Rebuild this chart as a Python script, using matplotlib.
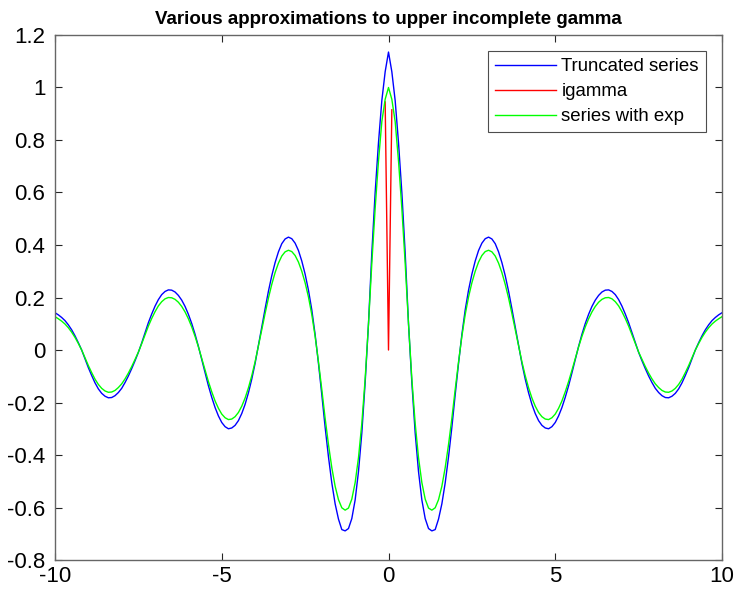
import matplotlib.pyplot as plt
import numpy as np

plt.rcParams['font.family'] = ['Liberation Sans', 'DejaVu Sans']

# sample positions for the x >= 0 half (picture is mirror symmetric about x = 0)
x_half = np.round(np.arange(0, 10.05, 0.1), 1)

# values, x = 0.0, 0.1, ..., 10.0
truncated_half = [
    1.135, 1.06, 0.95, 0.79, 0.60, 0.37, 0.10, -0.124, -0.316, -0.463,
    -0.571, -0.642, -0.680, -0.689, -0.684, -0.644, -0.586, -0.506, -0.407, -0.294,
    -0.170, -0.051, 0.059, 0.153, 0.228, 0.289, 0.339, 0.379, 0.407, 0.424,
    0.430, 0.423, 0.405, 0.374, 0.333, 0.283, 0.224, 0.157, 0.087, 0.017,
    -0.051, -0.111, -0.163, -0.207, -0.242, -0.269, -0.287, -0.297, -0.300, -0.292,
    -0.276, -0.251, -0.219, -0.180, -0.136, -0.087, -0.036, 0.014, 0.060, 0.101,
    0.136, 0.166, 0.190, 0.208, 0.221, 0.228, 0.229, 0.223, 0.211, 0.192,
    0.167, 0.137, 0.104, 0.066, 0.027, -0.009, -0.041, -0.071, -0.099, -0.124,
    -0.146, -0.162, -0.174, -0.181, -0.182, -0.176, -0.165, -0.148, -0.125, -0.097,
    -0.067, -0.034, 0.000, 0.028, 0.054, 0.077, 0.096, 0.112, 0.124, 0.134,
    0.142]

series_exp_half = [
    1.0, 0.955, 0.87, 0.72, 0.54, 0.33, 0.10, -0.11, -0.28, -0.41,
    -0.505, -0.568, -0.602, -0.610, -0.601, -0.570, -0.519, -0.448, -0.360, -0.260,
    -0.150, -0.045, 0.052, 0.135, 0.202, 0.256, 0.300, 0.335, 0.360, 0.375,
    0.380, 0.374, 0.358, 0.331, 0.295, 0.250, 0.198, 0.139, 0.077, 0.015,
    -0.045, -0.098, -0.144, -0.183, -0.214, -0.238, -0.254, -0.263, -0.265, -0.258,
    -0.244, -0.222, -0.194, -0.159, -0.120, -0.077, -0.032, 0.012, 0.052, 0.088,
    0.119, 0.145, 0.166, 0.182, 0.193, 0.199, 0.200, 0.195, 0.184, 0.168,
    0.146, 0.120, 0.091, 0.058, 0.024, -0.008, -0.036, -0.063, -0.088, -0.110,
    -0.129, -0.143, -0.154, -0.160, -0.161, -0.156, -0.146, -0.131, -0.111, -0.086,
    -0.059, -0.030, 0.000, 0.025, 0.048, 0.068, 0.085, 0.099, 0.110, 0.119,
    0.127]

igamma_x = [-0.1, 0.0, 0.1]
igamma_y = [0.945, 0.0, 0.915]

x = np.concatenate([-x_half[:0:-1], x_half])
truncated = np.concatenate([truncated_half[:0:-1], truncated_half])
series_exp = np.concatenate([series_exp_half[:0:-1], series_exp_half])

fig = plt.figure(figsize=(7.4, 5.9), dpi=100)
ax = fig.add_axes([0.0743, 0.0508, 0.9014, 0.8899])

ax.plot(x, truncated, color=(0, 0, 1), lw=1.0, label='Truncated series')
ax.plot(igamma_x, igamma_y, color=(1, 0, 0), lw=1.0, label='igamma')
ax.plot(x, series_exp, color=(0, 1, 0), lw=1.0, label='series with exp')

ax.set_xlim(-10, 10)
ax.set_ylim(-0.8, 1.2)
ax.set_xticks([-10, -5, 0, 5, 10])
ax.set_xticklabels(['-10', '-5', '0', '5', '10'])
ax.set_yticks([-0.8, -0.6, -0.4, -0.2, 0, 0.2, 0.4, 0.6, 0.8, 1, 1.2])
ax.set_yticklabels(['-0.8', '-0.6', '-0.4', '-0.2', '0', '0.2', '0.4', '0.6', '0.8', '1', '1.2'])
ax.tick_params(direction='in', top=True, right=True, length=5, width=0.8,
               color='0.15', labelsize=16, labelcolor='black')
ax.tick_params(axis='x', pad=4)
ax.tick_params(axis='y', pad=7)
for s in ax.spines.values():
    s.set_color('0.4')
    s.set_linewidth(1.0)

ax.set_title('Various approximations to upper incomplete gamma', fontsize=13.5,
             fontweight='bold', pad=8)

leg = ax.legend(loc='upper right', fontsize=13.4, fancybox=False, framealpha=1,
                edgecolor='0.3', borderaxespad=0.87, handlelength=3.3,
                borderpad=0.38, labelspacing=0.43, handletextpad=0.27)
leg.get_frame().set_linewidth(0.8)

fig.savefig('out.png', dpi=100)
